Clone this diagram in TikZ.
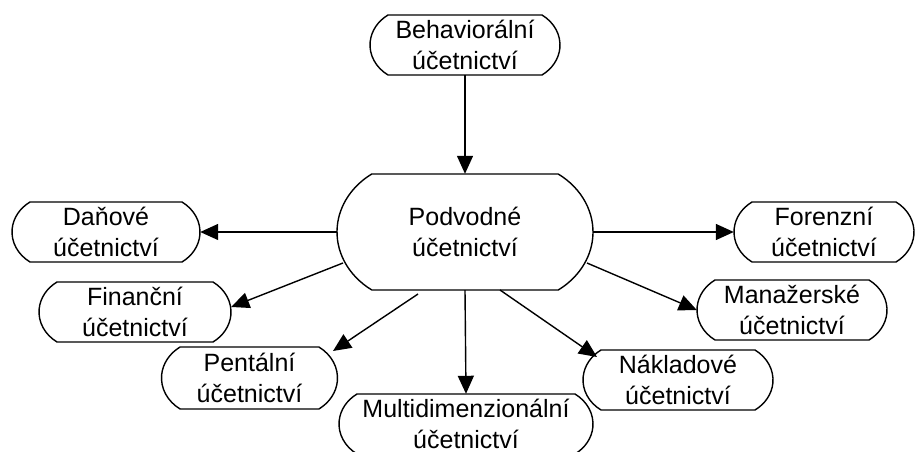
\documentclass[tikz,border=0pt]{standalone}
\usepackage{fontspec}
\setmainfont{Liberation Sans}
\usetikzlibrary{arrows.meta}

% Capsule-shaped box: name, x, y, half width, half height, text
\newcommand{\capsule}[6]{%
  \node[capnode, minimum width=2*#4, minimum height=2*#5] (#1) at (#2,#3) {#6};
  \draw[capline] (#2-#4+0.6*#5, #3+#5) -- (#2+#4-0.6*#5, #3+#5)
    arc[start angle=55, end angle=-55, x radius=1.407*#5pt, y radius=1.221*#5pt]
    -- (#2-#4+0.6*#5, #3-#5)
    arc[start angle=235, end angle=125, x radius=1.407*#5pt, y radius=1.221*#5pt]
    -- cycle;
}

\begin{document}
\begin{tikzpicture}[x=1pt, y=1pt,
  capnode/.style={inner sep=0pt, align=center, font=\fontsize{25}{31}\selectfont},
  capline/.style={line width=1.4pt, line join=round},
  arr/.style={line width=1.4pt, -{Triangle[length=18pt, width=16pt]}}]
  \fill[white] (0,0) rectangle (915,452);
  \useasboundingbox (0,0) rectangle (915,452);
  \clip (0,0) rectangle (915,452);

  \capsule{beh}{465}{407}{95}{30}{Behaviorální\\účetnictví}
  \capsule{pod}{465}{220}{128}{58}{Podvodné\\účetnictví}
  \capsule{dan}{106}{220}{94}{30}{Daňové\\účetnictví}
  \capsule{fin}{135}{140}{96}{30}{Finanční\\účetnictví}
  \capsule{pen}{249.5}{74}{88}{31}{Pentální\\účetnictví}
  \capsule{for}{824}{220}{90}{30}{Forenzní\\účetnictví}
  \capsule{man}{792}{142}{95}{30}{Manažerské\\účetnictví}
  \capsule{nak}{678}{72}{95}{30}{Nákladové\\účetnictví}
  \capsule{mul}{466}{28}{127}{30}{Multidimenzionální\\účetnictví}

  \draw[arr] (beh.south) -- (pod.north);
  \draw[arr] (pod.west) -- (dan.east);
  \draw[arr] (pod.east) -- (for.west);
  \draw[arr] ([shift={(-122,-31)}]pod.center) -- ([shift={(0,5)}]fin.east);
  \draw[arr] ([shift={(-47,-62)}]pod.center) -- ([shift={(83.5,27)}]pen.center);
  \draw[arr] (pod.south) -- (mul.north);
  \draw[arr] ([shift={(35,-58)}]pod.center) -- ([shift={(-81,23)}]nak.center);
  \draw[arr] ([shift={(122,-31)}]pod.center) -- (man.west);
\end{tikzpicture}
\end{document}
